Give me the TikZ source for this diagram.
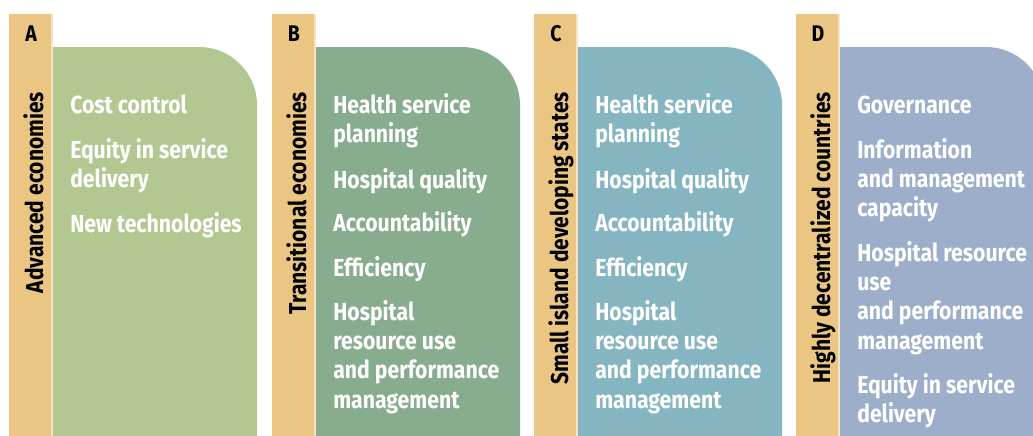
\documentclass[tikz,border=0pt]{standalone}
\usepackage{fontspec}
\setmainfont{Fira Sans}[FakeStretch=0.86]
\usepackage{tikz}
\usetikzlibrary{positioning}

\definecolor{tan}{HTML}{EBC683}
\definecolor{pale}{HTML}{F7E2C6}
\definecolor{colA}{HTML}{B3C891}
\definecolor{colB}{HTML}{88AD8E}
\definecolor{colC}{HTML}{85B5C1}
\definecolor{colD}{HTML}{9DAECB}

\newcommand{\itemlines}[1]{\begin{tabular}[t]{@{}l@{}}#1\end{tabular}}

\begin{document}
\begin{tikzpicture}[x=0.75pt,y=-0.75pt,
    item/.style={anchor=base west,inner sep=0pt,text=white,
      font=\bfseries\fontsize{18.5}{22.1}\selectfont},
    grouplabel/.style={rotate=90,anchor=base east,inner sep=0pt,
      font=\bfseries\fontsize{18.3}{22}\selectfont},
    letter/.style={anchor=base,inner sep=0pt,font=\bfseries\fontsize{17}{20}\selectfont}]

\useasboundingbox (0,0) rectangle (1033,436);
\clip (0,0) rectangle (1033,436);

\foreach \s/\ltr/\col/\grp in {9/A/colA/Advanced economies, 272/B/colB/Transitional economies,
    534/C/colC/Small island developing states, 796/D/colD/Highly decentralized countries} {
    \fill[tan] (\s,14) rectangle (\s+44,436);
    \fill[\col] (\s+44,436) -- (\s+44,47) -- (\s+190,47)
        arc[start angle=90,end angle=0,radius=43.5pt] -- (\s+248,436) -- cycle;
    \draw[pale,line width=1.2pt] (\s+43,14) -- (\s+43,436);
    \node[letter] (lbl\ltr) at (\s+22,41) {\ltr};
    \node[grouplabel] (grp\ltr) at (\s+34,92) {\grp};
}

% A
\foreach \n/\y/\txt in {1/113/Cost control, 2/158/{Equity in service\\delivery}, 3/232/New technologies}
    \node[item] (a\n) at (70,\y) {\itemlines{\txt}};

% B and C
\foreach \p/\x in {b/333, c/595} {
    \foreach \n/\y/\txt in {1/113/{Health service\\planning}, 2/188/Hospital quality, 3/231/Accountability,
        4/276/Efficiency, 5/320/{Hospital\\resource use\\and performance\\management}}
        \node[item] (\p\n) at (\x,\y) {\itemlines{\txt}};
}

% D
\foreach \n/\y/\txt in {1/113/Governance, 2/158/{Information\\and management\\capacity},
    3/261/{Hospital resource\\use\\and performance\\management}, 4/393/{Equity in service\\delivery}}
    \node[item] (d\n) at (857,\y) {\itemlines{\txt}};

\end{tikzpicture}
\end{document}
